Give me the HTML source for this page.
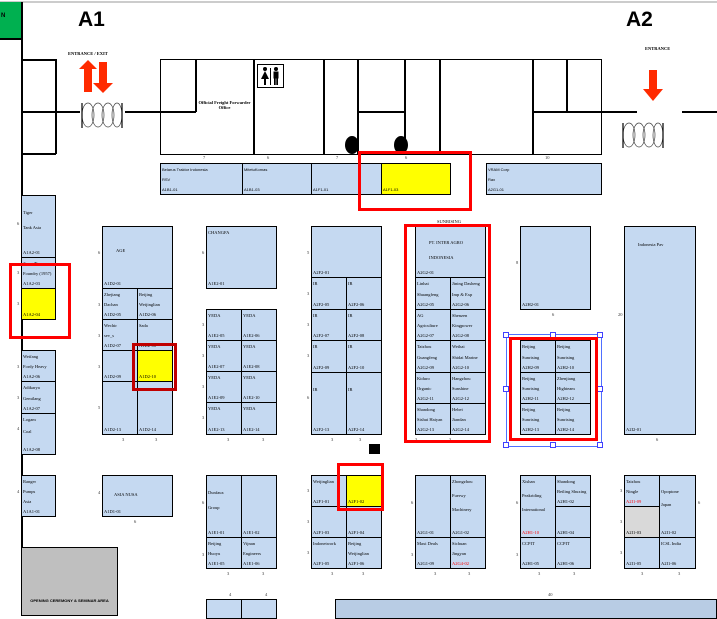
<!DOCTYPE html>
<html><head><meta charset="utf-8"><style>
*{margin:0;padding:0;box-sizing:border-box}
body{width:717px;height:616px;position:relative;overflow:hidden;background:#fff;font-family:"Liberation Serif",serif;font-size:4.5px;color:#000}
div{position:absolute}
.h{height:1.5px;background:#000}
.v{width:1.5px;background:#000}
.b{background:#c5d9f1;border:1.5px solid #000;display:flex;flex-direction:column;justify-content:space-between;padding:3px 1px 2px;line-height:5px;white-space:nowrap;overflow:hidden}
.y{background:#ff0}
.g{background:#d9d9d9}
.r{border:3.5px solid #f00}
.n{font-size:4.5px;color:#333}
.red{color:#f00}
.s{font-family:"Liberation Sans",sans-serif;font-size:4px}
</style></head><body>
<div style="left:0;top:1px;width:717px;height:1.5px;background:#ccc"></div>
<div style="left:0;top:2px;width:21px;height:36px;background:#00b050;font-family:'Liberation Sans';font-weight:bold;font-size:6px;padding:11px 0 0 1px">N</div>
<div class="h" style="left:0;top:38px;width:21px"></div>
<div class="v" style="left:21px;top:2px;height:614px"></div>
<div style="left:78px;top:8px;font-family:'Liberation Sans';font-weight:bold;font-size:21px">A1</div>
<div style="left:626px;top:8px;font-family:'Liberation Sans';font-weight:bold;font-size:21px">A2</div>
<div style="left:68px;top:51px;font-size:4.5px;font-weight:bold">ENTRANCE / EXIT</div>
<div style="left:645px;top:46px;font-size:4.5px;font-weight:bold">ENTRANCE</div>
<svg style="position:absolute;left:78px;top:60px" width="40" height="35"><polygon points="10,0 19,9 14,9 14,32 6,32 6,9 1,9" fill="#ff2a00"/><polygon points="21,2 29,2 29,23 35,23 25,33 15,23 21,23" fill="#ff2a00"/></svg>
<svg style="position:absolute;left:642px;top:70px" width="22" height="32"><polygon points="7,0 15,0 15,19 21,19 11,31 1,19 7,19" fill="#ff2a00"/></svg>
<svg style="position:absolute;left:81px;top:102px" width="42" height="27"><g fill="none" stroke="#444" stroke-width="0.7"><ellipse cx="7" cy="13" rx="6" ry="12"/><ellipse cx="17" cy="13" rx="6" ry="12"/><ellipse cx="27" cy="13" rx="6" ry="12"/><ellipse cx="36" cy="13" rx="5" ry="12"/></g><line x1="1" y1="1" x2="1" y2="26" stroke="#000" stroke-width="1.2"/><line x1="41" y1="1" x2="41" y2="26" stroke="#000" stroke-width="1.2"/></svg>
<svg style="position:absolute;left:622px;top:122px" width="42" height="27"><g fill="none" stroke="#444" stroke-width="0.7"><ellipse cx="7" cy="13" rx="6" ry="12"/><ellipse cx="17" cy="13" rx="6" ry="12"/><ellipse cx="27" cy="13" rx="6" ry="12"/><ellipse cx="36" cy="13" rx="5" ry="12"/></g><line x1="1" y1="1" x2="1" y2="26" stroke="#000" stroke-width="1.2"/><line x1="41" y1="1" x2="41" y2="26" stroke="#000" stroke-width="1.2"/></svg>
<div class="h" style="left:21px;top:59px;width:35px"></div>
<div class="v" style="left:55px;top:59px;height:95px"></div>
<div class="h" style="left:21px;top:111px;width:59px"></div>
<div class="h" style="left:125px;top:111px;width:70px"></div>
<div class="h" style="left:21px;top:153px;width:35px"></div>
<div style="left:160px;top:59px;width:442px;height:96px;border:1.5px solid #000"></div>
<div class="v" style="left:195px;top:59px;height:53px"></div>
<div class="h" style="left:160px;top:111px;width:36px"></div>
<div class="v" style="left:253px;top:59px;height:95px"></div>
<div class="v" style="left:323px;top:59px;height:95px"></div>
<div class="v" style="left:357px;top:59px;height:95px"></div>
<div class="h" style="left:357px;top:111px;width:48px"></div>
<div class="v" style="left:404px;top:59px;height:95px"></div>
<div class="v" style="left:439px;top:59px;height:95px"></div>
<div class="v" style="left:532px;top:59px;height:95px"></div>
<div class="v" style="left:566px;top:59px;height:53px"></div>
<div class="h" style="left:532px;top:111px;width:105px"></div>
<div class="h" style="left:682px;top:111px;width:35px"></div>
<div style="left:196px;top:100px;font-size:4.5px;font-weight:bold;text-align:center;width:57px;line-height:5px">Official Freight Forwarder<br>Office</div>
<svg style="position:absolute;left:257px;top:64px" width="27" height="24"><rect x="0.5" y="0.5" width="26" height="23" fill="#fff" stroke="#000" stroke-width="1"/><circle cx="8" cy="5" r="2" fill="#000"/><polygon points="8,7 12,15 9,15 9,21 7,21 7,15 4,15" fill="#000"/><line x1="13.5" y1="4" x2="13.5" y2="21" stroke="#000" stroke-width="1"/><circle cx="19" cy="5" r="2" fill="#000"/><rect x="16.5" y="7.5" width="5" height="7" fill="#000"/><rect x="17" y="14" width="1.7" height="7" fill="#000"/><rect x="19.3" y="14" width="1.7" height="7" fill="#000"/></svg>
<div style="left:345px;top:136px;width:14px;height:18px;border-radius:50%;background:#000"></div>
<div style="left:394px;top:136px;width:14px;height:18px;border-radius:50%;background:#000"></div>
<div class="n" style="left:203px;top:155px">7</div><div class="n" style="left:267px;top:155px">6</div><div class="n" style="left:336px;top:155px">7</div><div class="n" style="left:405px;top:155px">6</div><div class="n" style="left:545px;top:155px">10</div>
<div class="b s" style="left:160px;top:163px;width:83px;height:32px"><span>Belarus Traktor Indonesia</span><span>RSV</span><span>A1B1-01</span></div>
<div class="b s" style="left:242px;top:163px;width:70px;height:32px"><span>MitetuKomas</span><span></span><span>A1B1-03</span></div>
<div class="b s" style="left:311px;top:163px;width:72px;height:32px"><span></span><span>A1F1-01</span></div>
<div class="b s y" style="left:381px;top:163px;width:70px;height:32px"><span></span><span>A1F1-03</span></div>
<div class="b s" style="left:486px;top:163px;width:116px;height:32px"><span>VRAM Corp</span><span>Rax</span><span>A2G1-01</span></div>
<div class="b" style="left:21px;top:195px;width:35px;height:63px;padding-top:14px"><span>Tiger</span><span>Tank Asia</span><span></span><span>A1A2-01</span></div>
<div class="b" style="left:21px;top:257px;width:35px;height:32px"><span>Jiang Zhancon</span><span>Foundry (1957)</span><span>A1A2-03</span></div>
<div class="b y" style="left:21px;top:288px;width:35px;height:32px"><span></span><span>A1A2-04</span></div>
<div class="b" style="left:21px;top:350px;width:35px;height:32px"><span>Weifang</span><span>Fordy Heavy</span><span>A1A2-06</span></div>
<div class="b" style="left:21px;top:381px;width:35px;height:33px"><span>Adikarya</span><span>Gemilang</span><span>A1A2-07</span></div>
<div class="b" style="left:21px;top:413px;width:35px;height:42px"><span>Logam</span><span>Coal</span><span></span><span>A1A2-08</span></div>
<div class="b" style="left:21px;top:475px;width:35px;height:42px"><span>Ranger</span><span>Pumps</span><span>Asia</span><span>A1A1-01</span></div>
<div style="left:21px;top:547px;width:97px;height:69px;background:#bfbfbf;border:1.5px solid #000;font-family:'Liberation Sans';font-weight:bold;font-size:4px;padding:50px 0 0 0;text-align:center">OPENING CEREMONY &amp; SEMINAR AREA</div>
<div class="n" style="left:17px;top:221px">6</div><div class="n" style="left:17px;top:270px">3</div><div class="n" style="left:17px;top:301px">3</div><div class="n" style="left:17px;top:364px">3</div><div class="n" style="left:17px;top:395px">3</div><div class="n" style="left:17px;top:426px">4</div><div class="n" style="left:17px;top:489px">4</div>
<div class="b" style="left:102px;top:226px;width:71px;height:63px"><span style="padding:18px 0 0 12px">AGE</span><span>A1D2-01</span></div>
<div class="b" style="left:102px;top:288px;width:36px;height:32px"><span>Zhejiang</span><span>Dachan</span><span>A1D2-05</span></div>
<div class="b" style="left:137px;top:288px;width:36px;height:32px"><span>Beijing</span><span>Weijinglian</span><span>A1D2-06</span></div>
<div class="b" style="left:102px;top:319px;width:36px;height:32px"><span>Wechir</span><span>sev_s</span><span>A1D2-07</span></div>
<div class="b" style="left:137px;top:319px;width:36px;height:32px"><span>Sada</span><span></span><span>A1D2-08</span></div>
<div class="b" style="left:102px;top:350px;width:36px;height:32px"><span></span><span>A1D2-09</span></div>
<div class="b y" style="left:137px;top:350px;width:36px;height:32px"><span></span><span>A1D2-10</span></div>
<div class="b" style="left:102px;top:381px;width:36px;height:54px"><span></span><span>A1D2-13</span></div>
<div class="b" style="left:137px;top:381px;width:36px;height:54px"><span></span><span>A1D2-14</span></div>
<div class="n" style="left:98px;top:250px">6</div><div class="n" style="left:98px;top:302px">3</div><div class="n" style="left:98px;top:333px">3</div><div class="n" style="left:98px;top:364px">3</div><div class="n" style="left:98px;top:405px">5</div>
<div class="b" style="left:206px;top:226px;width:71px;height:63px"><span>CHANGFA</span><span>A1E2-01</span></div>
<div class="b" style="left:206px;top:309px;width:36px;height:32px"><span>YEDA</span><span>A1E2-05</span></div>
<div class="b" style="left:241px;top:309px;width:36px;height:32px"><span>YEDA</span><span>A1E2-06</span></div>
<div class="b" style="left:206px;top:340px;width:36px;height:32px"><span>YEDA</span><span>A1E2-07</span></div>
<div class="b" style="left:241px;top:340px;width:36px;height:32px"><span>YEDA</span><span>A1E2-08</span></div>
<div class="b" style="left:206px;top:371px;width:36px;height:32px"><span>YEDA</span><span>A1E2-09</span></div>
<div class="b" style="left:241px;top:371px;width:36px;height:32px"><span>YEDA</span><span>A1E2-10</span></div>
<div class="b" style="left:206px;top:402px;width:36px;height:33px"><span>YEDA</span><span>A1E2-13</span></div>
<div class="b" style="left:241px;top:402px;width:36px;height:33px"><span>YEDA</span><span>A1E2-14</span></div>
<div class="n" style="left:202px;top:250px">6</div><div class="n" style="left:202px;top:322px">3</div><div class="n" style="left:202px;top:353px">3</div><div class="n" style="left:202px;top:384px">3</div><div class="n" style="left:202px;top:415px">3</div>
<div class="b" style="left:311px;top:226px;width:71px;height:52px"><span></span><span>A2F2-01</span></div>
<div class="b" style="left:311px;top:277px;width:36px;height:33px"><span>IR</span><span>A2F2-05</span></div>
<div class="b" style="left:346px;top:277px;width:36px;height:33px"><span>IR</span><span>A2F2-06</span></div>
<div class="b" style="left:311px;top:309px;width:36px;height:32px"><span>IR</span><span>A2F2-07</span></div>
<div class="b" style="left:346px;top:309px;width:36px;height:32px"><span>IR</span><span>A2F2-08</span></div>
<div class="b" style="left:311px;top:340px;width:36px;height:33px"><span>IR</span><span>A2F2-09</span></div>
<div class="b" style="left:346px;top:340px;width:36px;height:33px"><span>IR</span><span>A2F2-10</span></div>
<div class="b" style="left:311px;top:372px;width:36px;height:63px;padding-top:14px"><span>IR</span><span>A2F2-13</span></div>
<div class="b" style="left:346px;top:372px;width:36px;height:63px;padding-top:14px"><span>IR</span><span>A2F2-14</span></div>
<div class="n" style="left:307px;top:250px">5</div><div class="n" style="left:307px;top:291px">3</div><div class="n" style="left:307px;top:322px">3</div><div class="n" style="left:307px;top:353px">3</div><div class="n" style="left:307px;top:395px">6</div>
<div class="n" style="left:331px;top:437px">3</div><div class="n" style="left:359px;top:437px">3</div>
<div style="left:369px;top:444px;width:11px;height:10px;background:#000"></div>
<div style="left:437px;top:219px;font-size:4.5px">SUNRISING</div>
<div class="b" style="left:415px;top:226px;width:71px;height:52px"><span></span><span style="padding-left:12px">PT. INTER AGRO</span><span style="padding-left:12px">INDONESIA</span><span>A2G2-01</span></div>
<div class="b" style="left:415px;top:277px;width:36px;height:33px"><span>Linhai</span><span>Shuangfeng</span><span>A2G2-05</span></div>
<div class="b" style="left:450px;top:277px;width:36px;height:33px"><span>Jining Dasheng</span><span>Imp &amp; Exp</span><span>A2G2-06</span></div>
<div class="b" style="left:415px;top:309px;width:36px;height:32px"><span>AG</span><span>Agriculture</span><span>A2G2-07</span></div>
<div class="b" style="left:450px;top:309px;width:36px;height:32px"><span>Shenzen</span><span>Kingpower</span><span>A2G2-08</span></div>
<div class="b" style="left:415px;top:340px;width:36px;height:33px"><span>Taizhou</span><span>Guangfeng</span><span>A2G2-09</span></div>
<div class="b" style="left:450px;top:340px;width:36px;height:33px"><span>Weihai</span><span>Shidai Marine</span><span>A2G2-10</span></div>
<div class="b" style="left:415px;top:372px;width:36px;height:32px"><span>Kiduro</span><span>Organic</span><span>A2G2-11</span></div>
<div class="b" style="left:450px;top:372px;width:36px;height:32px"><span>Hangzhou</span><span>Sunshine</span><span>A2G2-12</span></div>
<div class="b" style="left:415px;top:403px;width:36px;height:32px"><span>Shandong</span><span>Sishui Haiyan</span><span>A2G2-13</span></div>
<div class="b" style="left:450px;top:403px;width:36px;height:32px"><span>Hebei</span><span>Jiandan</span><span>A2G2-14</span></div>
<div class="b" style="left:520px;top:226px;width:71px;height:84px"><span></span><span>A2H2-01</span></div>
<div class="n" style="left:516px;top:260px">8</div><div class="n" style="left:552px;top:312px">6</div>
<div class="b" style="left:520px;top:340px;width:36px;height:33px"><span>Beijing</span><span>Sunrising</span><span>A2H2-09</span></div>
<div class="b" style="left:555px;top:340px;width:36px;height:33px"><span>Beijing</span><span>Sunrising</span><span>A2H2-10</span></div>
<div class="b" style="left:520px;top:372px;width:36px;height:32px"><span>Beijing</span><span>Sunrising</span><span>A2H2-11</span></div>
<div class="b" style="left:555px;top:372px;width:36px;height:32px"><span>Zhenjiang</span><span>Highteam</span><span>A2H2-12</span></div>
<div class="b" style="left:520px;top:403px;width:36px;height:32px"><span>Beijing</span><span>Sunrising</span><span>A2H2-13</span></div>
<div class="b" style="left:555px;top:403px;width:36px;height:32px"><span>Beijing</span><span>Sunrising</span><span>A2H2-14</span></div>
<div style="left:506px;top:334px;width:96px;height:113px;border:1px solid #4f6fff"></div>
<div style="left:503px;top:332px;width:6px;height:6px;border:1px solid #4040ff;background:#fff"></div>
<div style="left:550px;top:332px;width:6px;height:6px;border:1px solid #4040ff;background:#fff"></div>
<div style="left:597px;top:332px;width:6px;height:6px;border:1px solid #4040ff;background:#fff"></div>
<div style="left:503px;top:386px;width:6px;height:6px;border:1px solid #4040ff;background:#fff"></div>
<div style="left:597px;top:386px;width:6px;height:6px;border:1px solid #4040ff;background:#fff"></div>
<div style="left:503px;top:442px;width:6px;height:6px;border:1px solid #4040ff;background:#fff"></div>
<div style="left:550px;top:442px;width:6px;height:6px;border:1px solid #4040ff;background:#fff"></div>
<div style="left:597px;top:442px;width:6px;height:6px;border:1px solid #4040ff;background:#fff"></div>
<div class="b" style="left:624px;top:226px;width:72px;height:209px"><span style="padding:12px 0 0 12px">Indonesia Pav</span><span>A2I2-01</span></div>
<div class="n" style="left:618px;top:312px">20</div><div class="n" style="left:656px;top:437px">6</div>
<div class="b" style="left:102px;top:475px;width:71px;height:42px"><span></span><span style="padding-left:10px">ASIA NUSA</span><span>A1D1-01</span></div>
<div class="n" style="left:98px;top:490px">4</div><div class="n" style="left:134px;top:519px">6</div>
<div class="b" style="left:206px;top:475px;width:36px;height:63px;padding-top:14px"><span>Dunfaux</span><span>Group</span><span></span><span>A1E1-01</span></div>
<div class="b" style="left:241px;top:475px;width:36px;height:63px"><span></span><span>A1E1-02</span></div>
<div class="b" style="left:206px;top:537px;width:36px;height:32px"><span>Beijing</span><span>Huoyu</span><span>A1E1-05</span></div>
<div class="b" style="left:241px;top:537px;width:36px;height:32px"><span>Vijnan</span><span>Engineers</span><span>A1E1-06</span></div>
<div class="n" style="left:202px;top:500px">6</div><div class="n" style="left:202px;top:552px">3</div>
<div class="b" style="left:311px;top:475px;width:36px;height:32px"><span>Weijinglian</span><span></span><span>A2F1-01</span></div>
<div class="b y" style="left:346px;top:475px;width:36px;height:32px"><span></span><span>A2F1-02</span></div>
<div class="b" style="left:311px;top:506px;width:36px;height:32px"><span></span><span>A2F1-03</span></div>
<div class="b" style="left:346px;top:506px;width:36px;height:32px"><span></span><span>A2F1-04</span></div>
<div class="b" style="left:311px;top:537px;width:36px;height:32px"><span>Indonetwork</span><span></span><span>A2F1-05</span></div>
<div class="b" style="left:346px;top:537px;width:36px;height:32px"><span>Beijing</span><span>Weijinglian</span><span>A2F1-06</span></div>
<div class="n" style="left:307px;top:488px">3</div><div class="n" style="left:307px;top:519px">3</div><div class="n" style="left:307px;top:550px">3</div>
<div class="b" style="left:415px;top:475px;width:36px;height:63px"><span></span><span>A2G1-01</span></div>
<div class="b" style="left:450px;top:475px;width:36px;height:63px"><span>Zhongzhou</span><span>Fuerwy</span><span>Machinery</span><span></span><span>A2G1-02</span></div>
<div class="b" style="left:415px;top:537px;width:36px;height:32px"><span>Maxi Deals</span><span></span><span>A2G1-09</span></div>
<div class="b" style="left:450px;top:537px;width:36px;height:32px"><span>Sichuan</span><span>Jingyan</span><span class="red">A2G4-02</span></div>
<div class="n" style="left:411px;top:500px">6</div><div class="n" style="left:411px;top:552px">3</div>
<div class="b" style="left:520px;top:475px;width:36px;height:63px"><span>Xishan</span><span>Peakriding</span><span>International</span><span></span><span class="red">A2H1-10</span></div>
<div class="b" style="left:555px;top:475px;width:36px;height:32px"><span>Shandong</span><span>Beiling Shuxing</span><span>A2H1-02</span></div>
<div class="b" style="left:555px;top:506px;width:36px;height:32px"><span></span><span>A2H1-04</span></div>
<div class="b" style="left:520px;top:537px;width:36px;height:32px"><span>CCPIT</span><span></span><span>A2H1-05</span></div>
<div class="b" style="left:555px;top:537px;width:36px;height:32px"><span>CCPIT</span><span></span><span>A2H1-06</span></div>
<div class="n" style="left:516px;top:500px">6</div><div class="n" style="left:516px;top:552px">3</div>
<div class="b" style="left:624px;top:475px;width:36px;height:32px"><span>Taizhou</span><span>Ningle</span><span class="red">A2I1-09</span></div>
<div class="b g" style="left:624px;top:506px;width:36px;height:32px"><span></span><span>A2I1-03</span></div>
<div class="b" style="left:659px;top:475px;width:37px;height:63px;padding-top:13px"><span>Opoptone</span><span>Japan</span><span></span><span></span><span>A2I1-02</span></div>
<div class="b" style="left:624px;top:537px;width:36px;height:32px"><span></span><span>A2I1-05</span></div>
<div class="b" style="left:659px;top:537px;width:37px;height:32px"><span>ICSL India</span><span></span><span>A2I1-06</span></div>
<div class="n" style="left:620px;top:488px">3</div><div class="n" style="left:620px;top:519px">3</div><div class="n" style="left:620px;top:550px">3</div><div class="n" style="left:698px;top:500px">6</div>
<div class="n" style="left:227px;top:571px">3</div><div class="n" style="left:262px;top:571px">3</div><div class="n" style="left:331px;top:571px">3</div><div class="n" style="left:362px;top:571px">3</div><div class="n" style="left:434px;top:571px">3</div><div class="n" style="left:468px;top:571px">3</div><div class="n" style="left:538px;top:571px">3</div><div class="n" style="left:573px;top:571px">3</div><div class="n" style="left:641px;top:571px">3</div><div class="n" style="left:678px;top:571px">3</div>
<div class="n" style="left:415px;top:437px">3</div><div class="n" style="left:449px;top:437px">3</div><div class="n" style="left:535px;top:437px">3</div><div class="n" style="left:569px;top:437px">3</div><div class="n" style="left:227px;top:437px">3</div><div class="n" style="left:262px;top:437px">3</div><div class="n" style="left:122px;top:437px">3</div><div class="n" style="left:155px;top:437px">3</div>
<div class="n" style="left:229px;top:592px">4</div><div class="n" style="left:265px;top:592px">4</div><div class="n" style="left:548px;top:592px">40</div>
<div class="b" style="left:206px;top:599px;width:36px;height:20px"></div>
<div class="b" style="left:241px;top:599px;width:36px;height:20px"></div>
<div style="left:335px;top:599px;width:382px;height:20px;background:#b8cce4;border:1.5px solid #000"></div>
<div class="r" style="left:358px;top:151px;width:114px;height:60px"></div>
<div class="r" style="left:9px;top:263px;width:62px;height:76px"></div>
<div class="r" style="left:132px;top:343px;width:45px;height:48px;border-color:#c00000"></div>
<div class="r" style="left:404px;top:224px;width:87px;height:219px"></div>
<div class="r" style="left:509px;top:337px;width:89px;height:104px"></div>
<div class="r" style="left:337px;top:463px;width:47px;height:48px"></div>
</body></html>
